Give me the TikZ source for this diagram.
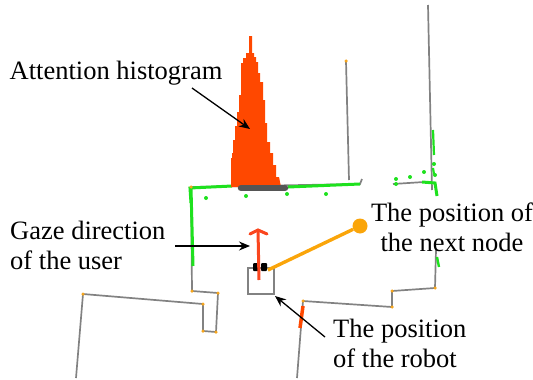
\documentclass[tikz,border=0pt]{standalone}
\usepackage{fontspec}
\setmainfont{Liberation Serif}
\usetikzlibrary{arrows.meta}
\definecolor{wallc}{RGB}{130,130,130}
\definecolor{cornerc}{RGB}{245,165,30}
\definecolor{greenc}{RGB}{30,225,30}
\definecolor{histc}{RGB}{255,72,0}
\definecolor{gazec}{RGB}{250,70,30}
\definecolor{barc}{RGB}{85,85,85}
\definecolor{nextc}{RGB}{250,165,10}
\tikzset{
  x=1pt,y=-1pt,
  wall/.style={draw=wallc,line width=1.7pt},
  scan/.style={draw=greenc,line width=3pt},
  corner/.style={circle,fill=cornerc,inner sep=0pt,minimum size=3.5pt},
  dot/.style={circle,fill=greenc,inner sep=0pt,minimum size=4pt},
  lab/.style={font=\fontsize{26.5}{30}\selectfont,align=center,inner sep=0pt,text=black},
  pointer/.style={draw=black,line width=1.3pt,-{Stealth[length=11pt,width=9pt]}}
}
\begin{document}
\begin{tikzpicture}
\useasboundingbox (0,0) rectangle (533,380);
% walls
\draw[wall] (346,61) -- (349,180);
\draw[wall] (428,5) -- (432,190);
\draw[wall] (191,187) -- (360,184) -- (362,179);
\draw[wall] (393,184) -- (424,182);
\draw[wall] (191,187) -- (192,291) -- (218,293) -- (216,332) -- (203,331) -- (203,304) -- (83,294) -- (76,378);
\draw[wall] (436,250) -- (435,288) -- (392,291) -- (392,307) -- (303,301) -- (297,378);
% green scans
\draw[scan] (191,203) -- (190,188) -- (232,186);
\draw[scan] (288,187) -- (360,184);
\draw[scan] (191,188) -- (193,266);
\draw[scan] (422,182) -- (435,183) -- (437,196);
\draw[scan,line width=2.2pt] (433,130) -- (434,155);
\draw[scan,line width=2.2pt] (433,168) -- (434,174);
\draw[scan,line width=2.4pt] (437,257) -- (439,267);
\foreach \p/\q in {206/198,246/196,287/194,326/194,396/184,396/179,410/177,424/172,434/164,435/175}
  \node[dot] at (\p,\q) {};
% corners
\foreach \p/\q in {346/61,191/187,192/291,218/293,216/332,203/331,203/304,83/294,303/301,392/291,392/307,435/288}
  \node[corner] at (\p,\q) {};
% histogram
\fill[histc] (231,187) -- (231,158) -- (232,158) -- (232,153) -- (233,153) -- (233,140) -- (235,140) -- (235,126) -- (237,126) -- (237,112) -- (239,112) -- (239,95) -- (241,95) -- (241,63) -- (243,63) -- (243,58) -- (246,58) -- (246,53) -- (249,53) -- (249,36) -- (252,36) -- (252,53) -- (254,53) -- (254,57) -- (256,57) -- (256,62) -- (258,62) -- (258,73) -- (260,73) -- (260,82) -- (263,82) -- (263,100) -- (265,100) -- (265,123) -- (267,123) -- (267,142) -- (270,142) -- (270,153) -- (273,153) -- (273,165) -- (276,165) -- (276,177) -- (279,177) -- (281,187) -- cycle;
\draw[barc,line width=6.5pt,line cap=round] (241,188) -- (285,188);
\draw[histc,line width=3.5pt] (303,306) -- (300,328);
% robot
\node[draw=wallc,line width=1.8pt,inner sep=0pt,minimum size=26pt,anchor=north west] (robot) at (247,267) {};
\fill[black,rounded corners=1pt] (253,263) rectangle (259,271);
\fill[black,rounded corners=1pt] (261,263) rectangle (267,271);
% gaze arrow
\coordinate (gazeTail) at (259,280);
\coordinate (gazeHead) at (258,230);
\draw[gazec,line width=3pt] (gazeTail) -- (gazeHead);
\draw[gazec,line width=3pt,line cap=round] (250,234) -- (258,230) -- (267,234);
% next node
\node[circle,fill=nextc,inner sep=0pt,minimum size=15pt] (next) at (360,226) {};
\draw[nextc,line width=3.4pt] (next) -- (268,270);
% labels
\node[lab,anchor=center] (hist) at (116,73.5) {Attention histogram};
\node[lab,anchor=west,align=left] (gaze) at (10,245) {Gaze direction\\of the user};
\node[lab,anchor=center] (nextl) at (452,227) {The position of\\the next node};
\node[lab,anchor=west,align=left] (robl) at (333,343.5) {The position\\of the robot};
% pointers
\coordinate (pa) at (192,88);
\coordinate (pb) at (250,129);
\draw[pointer] (pa) -- (pb);
\coordinate (pc) at (175,246);
\coordinate (pd) at (250,246);
\draw[pointer] (pc) -- (pd);
\coordinate (pe) at (325,337);
\coordinate (pf) at (275,296);
\draw[pointer] (pe) -- (pf);
\end{tikzpicture}
\end{document}
